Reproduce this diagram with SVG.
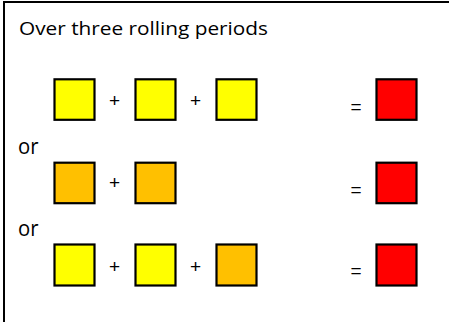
<svg xmlns="http://www.w3.org/2000/svg" width="449" height="322" viewBox="0 0 449 322">
<style>
.b{stroke:#000;stroke-width:2.2}
.y{fill:#ffff00}.o{fill:#ffc000}.r{fill:#ff0000}
.t{font-family:"Open Sans","Liberation Sans",sans-serif;fill:#000}
.op{font-family:"Liberation Sans",sans-serif;font-size:19px;fill:#000;text-anchor:middle}
</style>
<rect x="4" y="2" width="470" height="340" fill="#fff" stroke="#000" stroke-width="2"/>
<text class="t" x="19" y="35" font-size="18" textLength="249" lengthAdjust="spacingAndGlyphs">Over three rolling periods</text>
<text class="t" x="18" y="154" font-size="21" textLength="20.5" lengthAdjust="spacingAndGlyphs">or</text>
<text class="t" x="18" y="236" font-size="21" textLength="20.5" lengthAdjust="spacingAndGlyphs">or</text>
<g id="row1">
<rect class="b y" x="54.5" y="79.3" width="40" height="40.5"/>
<rect class="b y" x="135.5" y="79.3" width="40" height="40.5"/>
<rect class="b y" x="216.5" y="79.3" width="40" height="40.5"/>
<rect class="b r" x="376.5" y="79.3" width="40" height="40.5"/>
<text class="op" x="114.5" y="107">+</text>
<text class="op" x="195.5" y="107">+</text>
<text class="op" x="356" y="112.5">=</text>
</g>
<g id="row2">
<rect class="b o" x="54.5" y="162.7" width="40" height="40.5"/>
<rect class="b o" x="135.5" y="162.7" width="40" height="40.5"/>
<rect class="b r" x="376.5" y="162.7" width="40" height="40.5"/>
<text class="op" x="114.5" y="189">+</text>
<text class="op" x="356" y="196">=</text>
</g>
<g id="row3">
<rect class="b y" x="54.5" y="244.5" width="40" height="41"/>
<rect class="b y" x="135.5" y="244.5" width="40" height="41"/>
<rect class="b o" x="216.5" y="244.5" width="40" height="41"/>
<rect class="b r" x="376.5" y="244.5" width="40" height="41"/>
<text class="op" x="114.5" y="272.5">+</text>
<text class="op" x="195.5" y="272.5">+</text>
<text class="op" x="356" y="277">=</text>
</g>
</svg>
